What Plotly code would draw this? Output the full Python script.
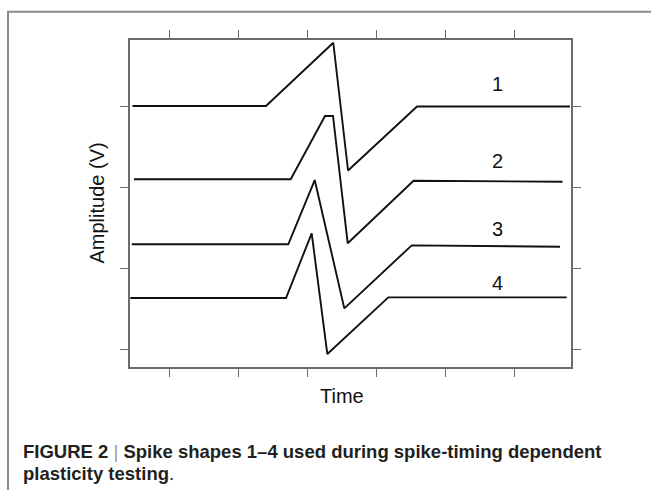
import plotly.graph_objects as go

# Spike shapes (time in arbitrary units, amplitude in arbitrary volts)
spike1_t = [0.462, 2.397, 3.372, 3.586, 4.586, 6.803]
spike1_v = [3.000, 3.000, 3.781, 2.204, 2.994, 2.994]

spike2_t = [0.484, 2.755, 3.252, 3.368, 3.581, 4.535, 6.694]
spike2_v = [2.095, 2.095, 2.877, 2.877, 1.305, 2.078, 2.065]

spike3_t = [0.451, 2.720, 3.103, 3.532, 4.509, 6.658]
spike3_v = [1.293, 1.293, 2.086, 0.502, 1.280, 1.263]

spike4_t = [0.430, 2.687, 3.059, 3.286, 4.170, 6.755]
spike4_v = [0.630, 0.630, 1.428, -0.062, 0.638, 0.638]

series_t = [spike1_t, spike2_t, spike3_t, spike4_t]
series_v = [spike1_v, spike2_v, spike3_v, spike4_v]
series_names = ["1", "2", "3", "4"]
label_t = [5.745, 5.745, 5.745, 5.745]
label_v = [3.272, 2.321, 1.481, 0.815]

x_ticks = [1, 2, 3, 4, 5, 6]
y_ticks = [0, 1, 2, 3]

FONT = "Liberation Sans, Arial, Helvetica, sans-serif"
AXC = "#6b6b6b"

fig = go.Figure()
for t, v, n in zip(series_t, series_v, series_names):
    fig.add_trace(go.Scatter(x=t, y=v, mode="lines", name=n,
                             line=dict(color="#111111", width=1.9),
                             showlegend=False, hoverinfo="skip"))

for t, v, n in zip(label_t, label_v, series_names):
    fig.add_annotation(x=t, y=v, xref="x", yref="y", text=n, showarrow=False,
                       xanchor="center", yanchor="middle",
                       font=dict(family=FONT, size=20, color="#111111"))

W, H = 651, 490
L, R, T, B = 130, 571, 40, 367

def px(x):
    return (x - L) / (R - L)

def py(y):
    return (B - y) / (B - T)

# axis titles
fig.add_annotation(x=px(96.5), y=py(203), xref="paper", yref="paper",
                   xanchor="center", yanchor="middle",
                   text="Amplitude (V)", textangle=-90, showarrow=False,
                   font=dict(family=FONT, size=20, color="#111111"))
fig.add_annotation(x=px(342), y=py(396), xref="paper", yref="paper",
                   xanchor="center", yanchor="middle",
                   text="Time", showarrow=False,
                   font=dict(family=FONT, size=20, color="#111111"))

# caption
fig.add_annotation(x=px(21), y=py(451), xref="paper", yref="paper",
                   xanchor="left", yanchor="middle", showarrow=False,
                   text="<b>FIGURE 2 </b><span style='font-weight:normal;color:#9a9a9a'>|</span><b> Spike shapes 1–4 used during spike-timing dependent</b>",
                   font=dict(family=FONT, size=18.5, color="#231f20"))
fig.add_annotation(x=px(21), y=py(473), xref="paper", yref="paper",
                   xanchor="left", yanchor="middle", showarrow=False,
                   text="<b>plasticity testing</b>.",
                   font=dict(family=FONT, size=18.5, color="#231f20"))

# outer frame (top and left rules)
fig.add_shape(type="path", xref="paper", yref="paper",
              path=f"M {px(8)},{py(491)} L {px(8)},{py(11.7)} L {px(652)},{py(11.7)}",
              line=dict(color="#8a8a8a", width=2))

fig.update_xaxes(range=[0.426, 6.817], tickvals=x_ticks, showticklabels=False,
                 ticks="outside", ticklen=8, tickwidth=1.2, tickcolor=AXC,
                 showline=True, linecolor=AXC, linewidth=1.5, mirror="allticks",
                 showgrid=False, zeroline=False, fixedrange=True)
fig.update_yaxes(range=[-0.222, 3.815], tickvals=y_ticks, showticklabels=False,
                 ticks="outside", ticklen=8, tickwidth=1.2, tickcolor=AXC,
                 showline=True, linecolor=AXC, linewidth=1.5, mirror="allticks",
                 showgrid=False, zeroline=False, fixedrange=True)

fig.update_layout(width=W, height=H, autosize=False,
                  margin=dict(l=L, r=W - R, t=T, b=H - B, pad=0),
                  paper_bgcolor="white", plot_bgcolor="white",
                  font=dict(family=FONT))

fig.write_html("out.html", config={"displayModeBar": False})
